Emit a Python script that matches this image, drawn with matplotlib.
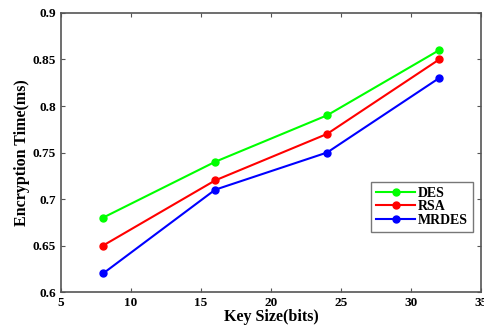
import matplotlib.pyplot as plt

key_sizes = [8, 16, 24, 32]
des = [0.68, 0.74, 0.79, 0.86]
rsa = [0.65, 0.72, 0.77, 0.85]
mrdes = [0.62, 0.71, 0.75, 0.83]

plt.rcParams["font.family"] = "Liberation Serif"
plt.rcParams["font.weight"] = "bold"

fig = plt.figure(figsize=(4.85, 3.33), dpi=100)
ax = fig.add_axes([0.126, 0.123, 0.866, 0.838])

ax.plot(key_sizes, des, color="#00ff00", linewidth=1.5, marker="o", markersize=5, label="DES")
ax.plot(key_sizes, rsa, color="#ff0000", linewidth=1.5, marker="o", markersize=5, label="RSA")
ax.plot(key_sizes, mrdes, color="#0000ff", linewidth=1.5, marker="o", markersize=5, label="MRDES")

ax.set_xlim(5, 35)
ax.set_ylim(0.6, 0.9)
ax.set_xticks([5, 10, 15, 20, 25, 30, 35])
ax.set_yticks([0.6, 0.65, 0.7, 0.75, 0.8, 0.85, 0.9])
ax.set_yticklabels(["0.6", "0.65", "0.7", "0.75", "0.8", "0.85", "0.9"])
ax.tick_params(direction="in", labelsize=9.5, length=3, color="#555555", top=True, right=True)
for s in ax.spines.values():
    s.set_color("#555555")
    s.set_linewidth(1.2)

ax.set_xlabel("Key Size(bits)", fontsize=11.5, fontweight="bold", labelpad=0)
ax.set_ylabel("Encryption Time(ms)", fontsize=11.5, fontweight="bold", labelpad=2)

leg = ax.legend(loc="upper left", bbox_to_anchor=(0.722, 0.42), fontsize=10, frameon=True,
                fancybox=False, handlelength=2.8, borderpad=0.35, labelspacing=0.05, handletextpad=0.2)
leg.get_frame().set_edgecolor("#555555")
leg.get_frame().set_linewidth(1.0)

fig.savefig("out.png", dpi=100)
